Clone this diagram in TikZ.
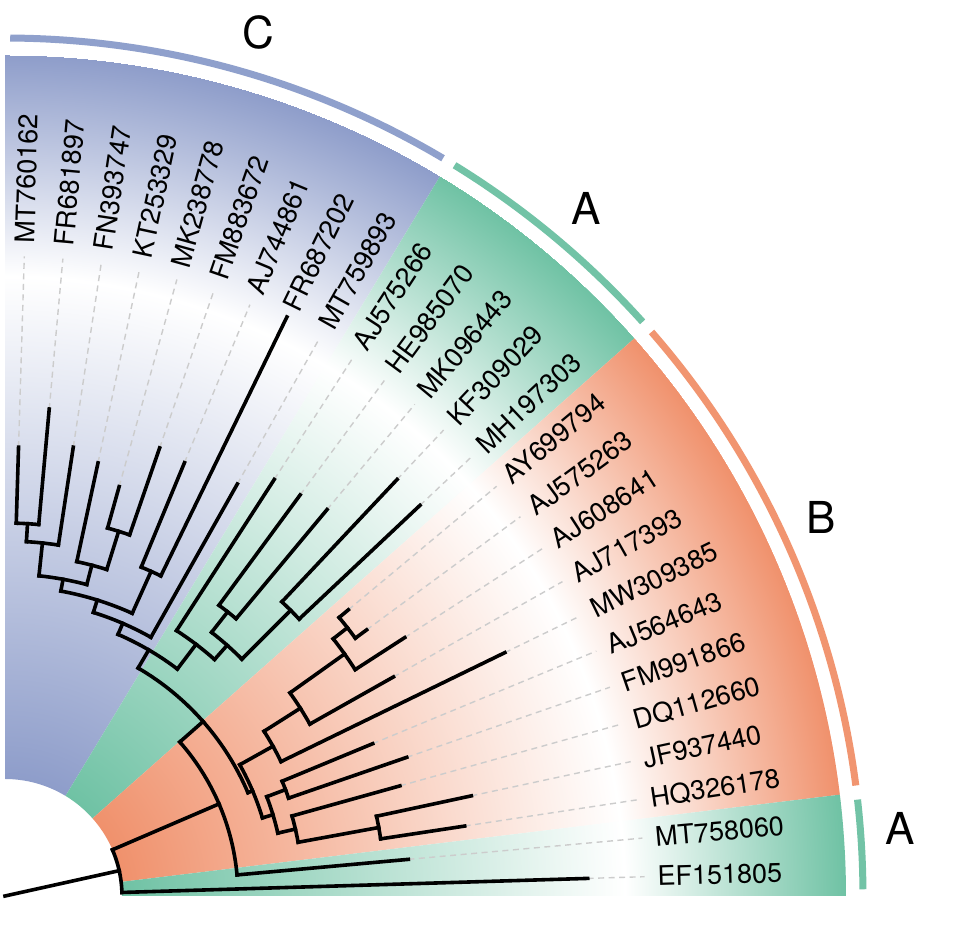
\documentclass[tikz,border=0pt]{standalone}
\usepackage{fontspec}
\setmainfont{TeX Gyre Heros}
\definecolor{cC}{HTML}{8E9DCA}
\definecolor{cA}{HTML}{6FC2A4}
\definecolor{cB}{HTML}{F0916C}
\definecolor{arcC}{HTML}{8FA0CC}
\definecolor{arcA}{HTML}{72C3A6}
\definecolor{arcB}{HTML}{F19570}
\definecolor{dashgray}{HTML}{CCCCCC}
\pgfdeclareradialshading{shadeC}{\pgfpointorigin}{color(0pt)=(cC); color(117pt)=(cC); color(620pt)=(white); color(841pt)=(cC)}
\pgfdeclareradialshading{shadeA}{\pgfpointorigin}{color(0pt)=(cA); color(117pt)=(cA); color(620pt)=(white); color(841pt)=(cA)}
\pgfdeclareradialshading{shadeB}{\pgfpointorigin}{color(0pt)=(cB); color(117pt)=(cB); color(620pt)=(white); color(841pt)=(cB)}
\tikzset{
  br/.style={line width=3.6pt, line cap=rect, black},
  dsh/.style={draw=dashgray, line width=1.4pt, dash pattern=on 6pt off 4.5pt},
  lab/.style={inner sep=0pt, outer sep=0pt, font=\fontsize{27}{30}\selectfont, anchor=west},
  clab/.style={inner sep=0pt, font=\fontsize{44}{48}\selectfont},
  cladearc/.style={line width=7pt}
}
\begin{document}
\begin{tikzpicture}[x=1pt,y=1pt]
\useasboundingbox (0,0) rectangle (956,950);
\fill[white] (0,0) rectangle (956,950);
\coordinate (O) at (5,54);
\begin{scope}[shift={(O)}]
% highlighted sectors
\foreach \a/\b/\s in {58.85/90/shadeC, 41.54/58.85/shadeA, 6.92/41.54/shadeB, 0/6.92/shadeA}{
  \begin{scope}
    \clip (\a:117) arc[start angle=\a, end angle=\b, radius=117] -- (\b:841) arc[start angle=\b, end angle=\a, radius=841] -- cycle;
    \node[inner sep=0pt, outer sep=0pt] (sh\s\a) at (0,0) {\pgfuseshading{\s}};
  \end{scope}
}
% leaves: angle / base radius / tip radius / label
\foreach \ang/\rb/\rt/\txt [count=\i] in {
 88.27/373/449/MT760162, 84.81/373/489/FR681897, 81.35/355/454/FN393747,
 77.88/342/443/KT253329, 74.42/382/425/MK238778, 70.96/382/474/FM883672,
 67.50/356/469/AJ744861, 64.04/356/644/FR687202, 60.58/297/473/MT759893,
 57.12/316/496/AJ575266, 53.65/361/498/HE985070, 50.19/361/503/MK096443,
 46.73/404/572/KF309029, 43.27/404/570/MH197303, 39.81/435/447/AY699794,
 36.35/435/449/AJ575263, 32.88/417/476/AJ608641, 29.42/350/446/AJ717393,
 25.96/307/556/MW309385, 22.50/300/398/AJ564643, 19.04/300/425/FM991866,
 15.58/298/410/DQ112660, 12.12/380/477/JF937440, 8.65/380/465/HQ326178,
 5.19/233/405/MT758060, 1.73/117/583/EF151805}{
  \coordinate (tip\i) at (\ang:\rt);
  \coordinate (dend\i) at (\ang:640);
  \ifdim \rt pt<640pt \draw[dsh] (tip\i) -- (dend\i); \fi
  \draw[br] (\ang:\rb) -- (tip\i);
  \node[lab, rotate=\ang] (t\i) at (\ang:653) {\txt};
}
% internal nodes: radius / arc from / arc to / node angle / parent radius
\foreach \r/\aa/\ab/\am/\pr in {
 373/88.27/84.81/86.54/355, 355/86.54/81.35/83.945/322,
 382/74.42/70.96/72.69/342, 342/77.88/72.69/75.285/322,
 322/83.945/75.285/79.615/310, 356/67.50/64.04/65.77/310,
 310/79.615/65.77/72.6925/297, 297/72.6925/60.58/66.636/285,
 361/53.65/50.19/51.92/335, 404/46.73/43.27/45.0/335,
 335/51.92/45.0/48.46/316, 316/57.12/48.46/52.79/285,
 285/66.636/52.79/59.713/264,
 435/39.81/36.35/38.08/417, 417/38.08/32.88/35.48/350,
 350/35.48/29.42/32.45/307, 307/32.45/25.96/29.205/269,
 300/22.50/19.04/20.77/280, 380/12.12/8.65/10.385/298,
 298/15.58/10.385/12.9825/280, 280/20.77/12.9825/16.876/269,
 269/29.205/16.876/23.04/264, 264/59.713/23.04/41.377/233,
 233/41.377/5.19/23.28/117, 117/23.28/1.73/12.51/0}{
  \draw[br] (\aa:\r) arc[start angle=\aa, end angle=\ab, radius=\r];
  \draw[br] (\am:\pr) -- (\am:\r);
}
% clade arcs
\draw[cladearc, arcC] (59.3:858) arc[start angle=59.3, end angle=89.65, radius=858];
\draw[cladearc, arcA] (42.0:858) arc[start angle=42.0, end angle=58.4, radius=858];
\draw[cladearc, arcB] (7.4:858) arc[start angle=7.4, end angle=41.1, radius=858];
\draw[cladearc, arcA] (0.45:858) arc[start angle=0.45, end angle=6.45, radius=858];
% clade labels
\node[clab] (labC) at (73.64:900) {C};
\node[clab] (labA) at (49.8:900) {A};
\node[clab] (labB) at (24.86:900) {B};
\node[clab] (labA2) at (4.34:898) {A};
\end{scope}
\end{tikzpicture}
\end{document}
